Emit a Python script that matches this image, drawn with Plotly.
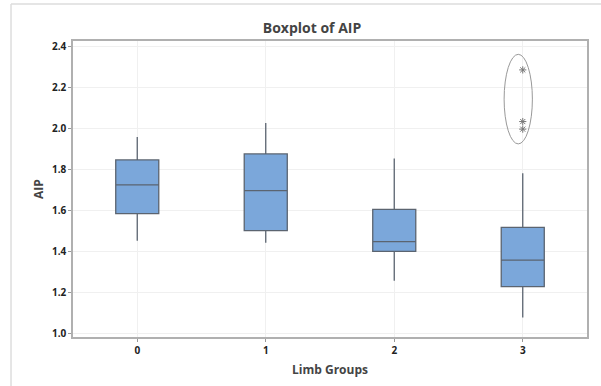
import plotly.graph_objects as go

groups = ["0", "1", "2", "3"]
lower_whisker = [1.455, 1.445, 1.260, 1.080]
q1_vals = [1.587, 1.504, 1.403, 1.231]
medians = [1.727, 1.699, 1.450, 1.360]
q3_vals = [1.849, 1.878, 1.608, 1.520]
upper_whisker = [1.961, 2.029, 1.856, 1.784]
outlier_group = [3, 3, 3]
outlier_vals = [2.288, 2.036, 1.999]
y_ticks = [1.0, 1.2, 1.4, 1.6, 1.8, 2.0, 2.2, 2.4]

fig = go.Figure()
fig.add_trace(go.Box(
    x=[0, 1, 2, 3],
    q1=q1_vals, median=medians, q3=q3_vals,
    lowerfence=lower_whisker, upperfence=upper_whisker,
    fillcolor="#7BA7DA",
    line=dict(color="#5b6470", width=1.3),
    whiskerwidth=0,
    width=0.335,
    boxpoints=False,
    showlegend=False,
))
fig.add_trace(go.Scatter(
    x=outlier_group, y=outlier_vals, mode="markers",
    marker=dict(symbol="asterisk-open", size=6, color="#777777", line=dict(width=1, color="#777777")),
    showlegend=False,
))

fig.add_shape(type="circle", xref="x", yref="y", x0=2.855, x1=3.075, y0=1.927, y1=2.364,
              line=dict(color="#999999", width=1))
# outer frame (top and left edges)
fig.add_shape(type="line", xref="paper", yref="paper", x0=-0.1206, x1=1.03, y0=1.125, y1=1.125,
              line=dict(color="#dddddd", width=1.5), layer="below")
fig.add_shape(type="line", xref="paper", yref="paper", x0=-0.1206, x1=-0.1206, y0=-0.2, y1=1.125,
              line=dict(color="#dddddd", width=1.5), layer="below")

tickfont = dict(family="Open Sans", size=10, color="#222222")
fig.update_layout(
    width=601, height=386,
    margin=dict(l=73, r=14, t=41, b=49),
    paper_bgcolor="white", plot_bgcolor="white",
    title=dict(text="<b>Boxplot of AIP</b>", x=312/601, xanchor="center", y=1-28/386, yanchor="middle",
               font=dict(family="Open Sans", size=14, color="#444444")),
    xaxis=dict(range=[-0.5, 3.5], tickvals=[0, 1, 2, 3], ticktext=["<b>%s</b>" % g for g in groups],
               tickfont=tickfont, showgrid=True, gridcolor="#f0f0f0", zeroline=False,
               showline=True, linecolor="#b0b0b0", linewidth=1.5, mirror=True,
               ticks="outside", ticklen=3, tickcolor="#999999",
               title=dict(text="<b>Limb Groups</b>", font=dict(family="Open Sans", size=12, color="#444444"), standoff=10)),
    yaxis=dict(range=[0.985, 2.429], tickvals=y_ticks, ticktext=["<b>%.1f</b>" % v for v in y_ticks],
               tickfont=tickfont, showgrid=True, gridcolor="#f0f0f0", zeroline=False,
               showline=True, linecolor="#b0b0b0", linewidth=1.5, mirror=True,
               ticks="outside", ticklen=3, tickcolor="#999999",
               title=dict(text="<b>AIP</b>", font=dict(family="Open Sans", size=12, color="#444444"), standoff=6)),
)
fig.write_html("out.html")
